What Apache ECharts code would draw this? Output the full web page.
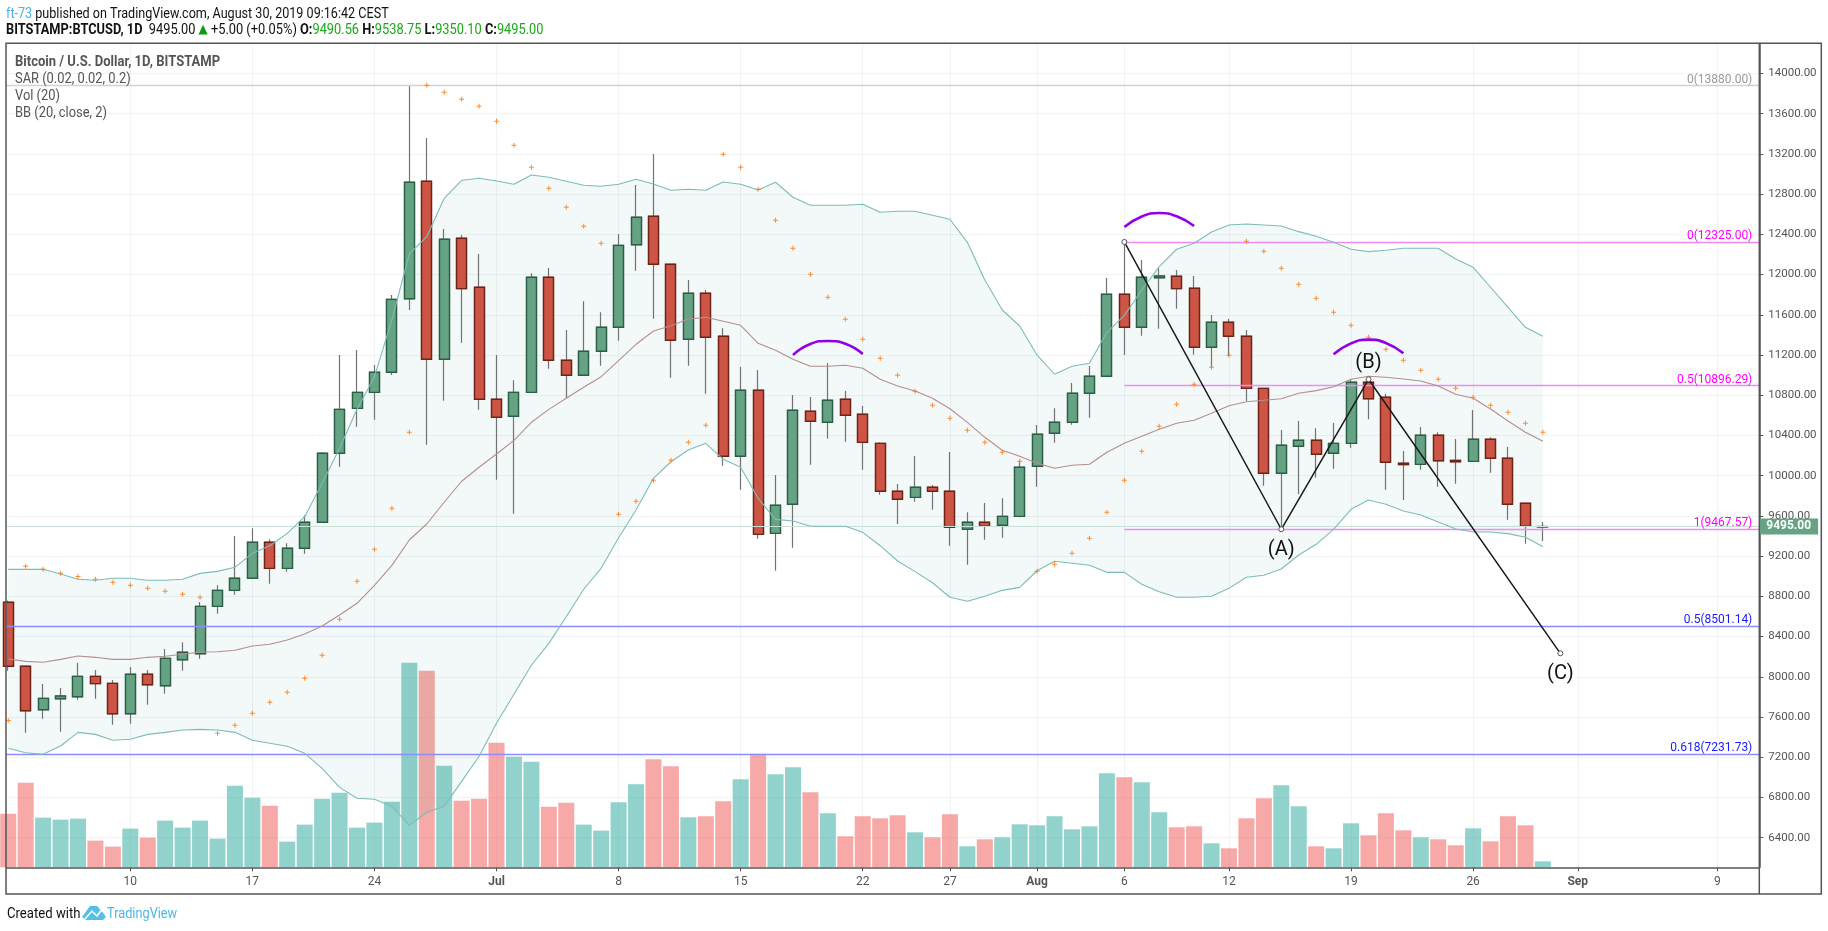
<!DOCTYPE html>
<html><head><meta charset="utf-8"><title>BTCUSD</title>
<style>html,body{margin:0;padding:0;background:#fff}#c{width:1828px;height:931px}</style>
<script src="https://cdn.jsdelivr.net/npm/echarts@6/dist/echarts.min.js"></script></head>
<body><div id="c"></div><script>
const dates=['Jun 3','Jun 4','Jun 5','Jun 6','Jun 7','Jun 8','Jun 9','Jun 10','Jun 11','Jun 12','Jun 13','Jun 14','Jun 15','Jun 16','Jun 17','Jun 18','Jun 19','Jun 20','Jun 21','Jun 22','Jun 23','Jun 24','Jun 25','Jun 26','Jun 27','Jun 28','Jun 29','Jun 30','Jul 1','Jul 2','Jul 3','Jul 4','Jul 5','Jul 6','Jul 7','Jul 8','Jul 9','Jul 10','Jul 11','Jul 12','Jul 13','Jul 14','Jul 15','Jul 16','Jul 17','Jul 18','Jul 19','Jul 20','Jul 21','Jul 22','Jul 23','Jul 24','Jul 25','Jul 26','Jul 27','Jul 28','Jul 29','Jul 30','Jul 31','Aug 1','Aug 2','Aug 3','Aug 4','Aug 5','Aug 6','Aug 7','Aug 8','Aug 9','Aug 10','Aug 11','Aug 12','Aug 13','Aug 14','Aug 15','Aug 16','Aug 17','Aug 18','Aug 19','Aug 20','Aug 21','Aug 22','Aug 23','Aug 24','Aug 25','Aug 26','Aug 27','Aug 28','Aug 29','Aug 30'];
const opens=[8741,8105,7673,7782,7802,8005,7935,7633,8025,7912,8170,8230,8701,8860,8980,9338,9079,9278,9537,10223,10670,10829,11029,11760,12928,11158,12361,11874,10760,10591,10829,11973,11148,10999,11237,11476,12297,12580,12103,11357,11814,11387,10193,10850,9427,9716,10641,10531,10760,10611,10322,9845,9785,9885,9845,9467,9537,9507,9596,10094,10422,10531,10820,10989,11804,11476,11969,11983,11864,11277,11526,11387,10869,10024,10293,10352,10223,10322,10929,10780,10124,10113,10402,10153,10143,10362,10173,9726,9490.56];
const closes=[8105,7663,7786,7809,8005,7932,7633,8025,7922,8184,8244,8701,8860,8980,9338,9079,9278,9537,10223,10660,10829,11029,11754,12918,11158,12351,11860,10760,10581,10829,11973,11148,10999,11237,11476,12291,12570,12103,11347,11814,11377,10193,10850,9417,9706,10651,10541,10750,10601,10332,9845,9766,9885,9845,9487,9537,9497,9596,10084,10412,10531,10820,10989,11804,11476,11973,11986,11860,11277,11526,11387,10869,10024,10303,10352,10213,10322,10929,10766,10134,10110,10402,10149,10139,10362,10173,9716,9497,9495];
const lows=[8061,7445,7584,7454,7772,7783,7524,7534,7723,7832,8061,8180,8628,8817,8980,8926,9046,9224,9537,10090,10487,10557,11002,11648,10309,10746,11323,10657,9961,9622,10829,11064,10770,10999,11094,11343,12039,11562,10975,11094,10816,10100,9861,9374,9055,9284,10110,10368,10338,10060,9811,9520,9742,9662,9304,9115,9364,9383,9586,9891,10328,10507,10577,10989,11200,11392,11462,11661,11203,11078,11191,10743,9901,9467,9815,9980,10070,10279,10561,9861,9758,10060,9891,9921,10143,10030,9563,9324,9350.10];
const highs=[8760,8110,7928,7889,8137,8068,7968,8098,8068,8277,8343,8744,8910,9400,9477,9367,9328,9606,10233,11200,11250,11101,11797,13880,13359,12454,12394,12205,11200,10949,12013,12066,11449,11735,11625,12404,12891,13200,12103,11946,11847,11466,11081,11051,10007,10803,10783,11121,10842,10693,10332,9918,10196,9908,10236,9636,9729,9775,10143,10504,10670,10922,11091,11966,12325,12145,12063,12046,11986,11598,11559,11449,10869,10455,10544,10472,10524,10952,10969,10813,10246,10484,10432,10365,10654,10382,10286,9726,9538.75];
const volumes=[8050,12700,7450,7150,7300,4000,3100,5800,4450,7000,5950,7000,4300,12250,10450,9250,3850,6400,10300,11200,5950,6700,9850,30700,29500,15250,10000,10300,18700,16600,15850,9100,9700,6400,5500,9750,12450,16200,15150,7500,7650,9900,13200,17050,13950,15000,11250,8100,4650,7650,7350,7800,5250,4500,7950,3150,4200,4500,6450,6300,7650,5700,6150,14100,13500,12750,8250,6000,6150,3600,2850,7350,10350,12300,9150,3150,2850,6600,4800,8100,5550,4500,4200,3300,5850,3900,7650,6300,900];
const bbUpper=[9069,9069,9069,9023,8970,8960,8980,8980,8960,8960,8970,9029,9049,9089,9228,9304,9427,9593,9925,10273,10660,10985,11549,12205,12377,12759,12938,12958,12931,12898,12991,12968,12928,12888,12878,12898,12948,12901,12838,12848,12838,12921,12898,12841,12918,12769,12689,12689,12689,12699,12620,12630,12630,12590,12550,12321,11946,11648,11489,11198,11009,11088,11118,11426,11595,11847,12079,12252,12311,12424,12493,12503,12493,12483,12427,12381,12321,12252,12228,12242,12262,12262,12262,12155,12072,11874,11675,11476,11387];
const bbBasis=[8178,8154,8145,8174,8207,8194,8174,8174,8194,8204,8224,8247,8250,8264,8307,8324,8366,8426,8505,8615,8731,8910,9109,9361,9520,9736,9945,10084,10216,10352,10531,10660,10770,10879,10985,11144,11307,11439,11492,11559,11575,11536,11496,11317,11247,11158,11088,11088,11098,11068,10959,10892,10842,10770,10666,10531,10382,10253,10193,10124,10074,10104,10114,10233,10322,10392,10462,10522,10551,10621,10696,10736,10750,10766,10820,10846,10885,10959,10989,10979,10962,10942,10892,10810,10770,10663,10544,10432,10342];
const bbLower=[7289,7245,7229,7312,7448,7428,7369,7379,7428,7448,7471,7478,7471,7448,7369,7339,7309,7239,7090,6901,6792,6782,6712,6523,6653,6712,6961,7210,7538,7826,8115,8333,8598,8871,9079,9383,9659,9974,10139,10256,10322,10163,10084,9775,9566,9550,9497,9497,9497,9437,9304,9152,9046,8936,8791,8751,8801,8860,8890,9055,9149,9129,9109,9039,9039,8920,8847,8791,8791,8801,8880,8990,9010,9072,9212,9318,9467,9666,9758,9716,9649,9609,9540,9470,9440,9440,9424,9388,9294];
const sar=[7567,9099,9069,9029,8999,8970,8940,8910,8880,8850,8821,8791,7438,7518,7637,7747,7846,7985,8214,8572,8950,9268,9676,10432,13883,13813,13743,13674,13525,13286,13067,12858,12669,12480,12311,9616,9746,9954,10153,10332,10501,13196,13067,12848,12540,12262,12003,11774,11556,11357,11168,10999,10840,10700,10571,10452,10332,10233,10143,9049,9119,9228,9378,9636,9954,10243,10492,10710,10909,11078,11197,12331,12232,12063,11904,11764,11625,11496,11377,11257,11148,11048,10959,10869,10780,10700,10631,10521,10432];
const priceTicks=[6400,6800,7200,7600,8000,8400,8800,9200,9600,10000,10400,10800,11200,11600,12000,12400,12800,13200,13600,14000];
const timeTickDays=[7,14,21,28,35,42,49,54,59,64,70,77,84,90,98];
const timeTickLabels=['10','17','24','Jul','8','15','22','27','Aug','6','12','19','26','Sep','9'];
const waveDays=[64,73,78,89], wavePrices=[12325,9467.57,10959,8234], waveLabels=['','(A)','(B)','(C)'];
const arcDays=[[45,46,47,48,49],[64,65,66,67,68],[76,77,78,79,80]];
const arcPrices=[[11201,11310,11340,11312,11211],[12473,12578,12613,12580,12483],[11207,11316,11353,11320,11217]];
const lastPrice=9495, xMin=-0.11, xMax=100.41, yMin=6106, yMax=14300, volMax=123600;

const FONT='Roboto,sans-serif';
const GREEN='#66a384', RED='#cc5545', GREEN_B='#2b5f45', RED_B='#6e2218', WICK='#737375';
const idx=dates.map((_,i)=>i);
const pair=a=>a.map((v,i)=>[i,v]);
const fullCandles=idx.map(i=>[i,opens[i],closes[i],lows[i],highs[i]]);
const bodyCandles=idx.map(i=>[i,opens[i],closes[i],Math.min(opens[i],closes[i]),Math.max(opens[i],closes[i])]);
const hline=(y,x0,label,color,textColor)=>[
  {coord:[x0,y],lineStyle:{color,width:1.3,type:'solid'},label:{show:!!label,formatter:label,color:textColor,position:'insideEndTop',distance:[7,0],fontFamily:FONT,fontSize:12}},
  {coord:[xMax,y]}];
const arcSeries=arcDays.map((d,k)=>({type:'line',name:'arc'+k,data:d.map((x,i)=>[x,arcPrices[k][i]]),smooth:0.5,symbol:'none',lineStyle:{color:'#9400e6',width:2.6},z:9,silent:true}));
const bandItem=(params,api)=>{
  if(params.dataIndex!==0) return null;
  const pts=idx.map(i=>api.coord([i,bbUpper[i]])).concat(idx.slice().reverse().map(i=>api.coord([i,bbLower[i]])));
  return {type:'polygon',shape:{points:pts},style:{fill:'rgba(38,140,135,0.055)'},silent:true};
};

const option={
 animation:false,backgroundColor:'#fff',
 grid:{left:6.3,right:68.7,top:43.3,bottom:63.7,containLabel:false},
 xAxis:{type:'value',min:xMin,max:xMax,
  axisLine:{show:true,lineStyle:{color:'#555',width:1.5}},
  axisTick:{show:true,length:4,lineStyle:{color:'#555'},customValues:timeTickDays},
  axisLabel:{customValues:timeTickDays,margin:9,color:'#555',fontFamily:FONT,fontSize:12,
    formatter:v=>{const s=timeTickLabels[timeTickDays.indexOf(v)];return /[A-Z]/.test(s)?'{b|'+s+'}':s;},
    rich:{b:{fontWeight:'bold',color:'#555',fontFamily:FONT,fontSize:12}}},
  splitLine:{show:true,lineStyle:{color:'#f0f2f4',width:1}}},
 yAxis:[
  {type:'value',position:'right',min:yMin,max:yMax,
   axisLine:{show:true,onZero:false,lineStyle:{color:'#555',width:1.5}},
   axisTick:{show:true,length:4,lineStyle:{color:'#555'},customValues:priceTicks},
   axisLabel:{customValues:priceTicks,margin:9,padding:[2,0,0,0],color:'#555',fontFamily:FONT,fontSize:11.5,formatter:v=>v.toFixed(2)},
   splitLine:{show:true,lineStyle:{color:'#f1f3f5',width:1.2}}},
  {type:'value',min:0,max:volMax,show:false,splitLine:{show:false}}
 ],
 series:[
  {type:'bar',name:'Vol',yAxisIndex:1,barWidth:16,z:1,silent:true,
   data:idx.map(i=>({value:[i,volumes[i]],itemStyle:{color:closes[i]>=opens[i]?'rgba(38,166,154,0.5)':'rgba(239,83,80,0.5)'}}))},
  {type:'custom',name:'BB band',renderItem:bandItem,data:pair(bbUpper),clip:true,z:2,silent:true},
  {type:'candlestick',name:'wicks',data:fullCandles,barWidth:10.5,z:3,silent:true,
   itemStyle:{color:GREEN,color0:RED,borderColor:WICK,borderColor0:WICK,borderColorDoji:GREEN_B,borderWidth:1.2}},
  {type:'candlestick',name:'BTCUSD',data:bodyCandles,barWidth:10.5,z:4,silent:true,
   itemStyle:{color:GREEN,color0:RED,borderColor:GREEN_B,borderColor0:RED_B,borderColorDoji:GREEN_B,borderWidth:1.4}},
  {type:'line',name:'BB upper',data:pair(bbUpper),symbol:'none',lineStyle:{color:'#7dbcb8',width:1.1},z:5,silent:true},
  {type:'line',name:'BB lower',data:pair(bbLower),symbol:'none',lineStyle:{color:'#7dbcb8',width:1.1},z:5,silent:true},
  {type:'line',name:'BB basis',data:pair(bbBasis),symbol:'none',lineStyle:{color:'#b58e8e',width:1.1},z:5,silent:true},
  {type:'scatter',name:'SAR',data:pair(sar),symbol:'path://M2 0h1v2h2v1H3v2H2V3H0V2h2z',symbolSize:5,itemStyle:{color:'#ff7000'},z:6,silent:true},
  {type:'line',name:'levels',data:[],z:7,silent:true,
   markLine:{silent:true,symbol:'none',precision:2,animation:false,
    data:[
     hline(13880,xMin,'0(13880.00)','#d2d2d2','#9a9a9a'),
     hline(12325,waveDays[0],'0(12325.00)','#f08cf0','#ff00ff'),
     hline(10896.29,waveDays[0],'0.5(10896.29)','#f08cf0','#ff00ff'),
     hline(9467.57,waveDays[0],'1(9467.57)','#f08cf0','#ff00ff'),
     hline(8501.14,xMin,'0.5(8501.14)','#8c8cff','#1a1aff'),
     hline(7231.73,xMin,'0.618(7231.73)','#8c8cff','#1a1aff'),
     [{coord:[xMin,lastPrice],lineStyle:{color:'#c9e0d6',width:1.2,type:'solid'},
       label:{show:true,position:'end',distance:0,formatter:lastPrice.toFixed(2),color:'#fff',backgroundColor:GREEN,padding:[2,7,2,7],fontFamily:FONT,fontSize:12,fontWeight:'bold'}},
      {coord:[xMax,lastPrice]}]
    ]}},
  ...arcSeries,
  {type:'line',name:'wave',data:waveDays.map((x,i)=>({value:[x,wavePrices[i]],
      label:{show:!!waveLabels[i],formatter:waveLabels[i],position:i===2?'top':'bottom',distance:i===2?3:8,color:'#111',fontFamily:FONT,fontSize:20}})),
   symbol:'circle',symbolSize:5,itemStyle:{color:'#fff',borderColor:'#555',borderWidth:1},
   lineStyle:{color:'#1a1a1a',width:1.5},z:10,silent:true}
 ],
 graphic:{elements:[
  {type:'rect',silent:true,z:100,shape:{x:6,y:43.3,width:1815.3,height:850.7},style:{fill:'none',stroke:'#555',lineWidth:1.5}},
  {type:'line',silent:true,z:100,shape:{x1:1759.3,y1:43.3,x2:1759.3,y2:894},style:{stroke:'#555',lineWidth:1.5}},
  {type:'text',silent:true,z:100,x:6,y:7,scaleX:0.9,style:{text:'{a|ft-73} published on TradingView.com, August 30, 2019 09:16:42 CEST',fill:'#111',font:'14px '+FONT,rich:{a:{fill:'#49b3e6',font:'14px '+FONT}}}},
  {type:'text',silent:true,z:100,x:6,y:23,scaleX:0.915,style:{
    text:'{b|BITSTAMP:BTCUSD, 1D}  9495.00 {t|▲} +5.00 (+0.05%) {b|O:}{g|9490.56} {b|H:}{g|9538.75} {b|L:}{g|9350.10} {b|C:}{g|9495.00}',
    fill:'#111',font:'14px '+FONT,
    rich:{b:{fill:'#111',font:'bold 14px '+FONT},g:{fill:'#17a917',font:'14px '+FONT},t:{fill:'#0a9a0a',font:'13px DejaVu Sans'}}}},
  {type:'text',silent:true,z:100,x:15,y:55,scaleX:0.93,style:{text:'Bitcoin / U.S. Dollar, 1D, BITSTAMP',fill:'#555',font:'bold 14px '+FONT}},
  {type:'text',silent:true,z:100,x:15,y:72,scaleX:0.92,style:{text:'SAR (0.02, 0.02, 0.2)',fill:'#555',font:'14px '+FONT}},
  {type:'text',silent:true,z:100,x:15,y:89,scaleX:0.92,style:{text:'Vol (20)',fill:'#555',font:'14px '+FONT}},
  {type:'text',silent:true,z:100,x:15,y:106,scaleX:0.92,style:{text:'BB (20, close, 2)',fill:'#555',font:'14px '+FONT}},
  {type:'text',silent:true,z:100,x:7,y:907,scaleX:0.875,style:{text:'Created with',fill:'#111',font:'15px '+FONT}},
  {type:'text',silent:true,z:100,x:107,y:907,scaleX:0.85,style:{text:'TradingView',fill:'#4db8e8',font:'15px '+FONT}},
  {type:'polygon',silent:true,z:100,shape:{points:[[82,917],[90,906],[97,906],[104,914],[106,917],[103,920],[86,920]]},style:{fill:'#55bfe8'}},
  {type:'polyline',silent:true,z:101,shape:{points:[[85,919],[92,911],[97,916],[103,908]]},style:{fill:'none',stroke:'#fff',lineWidth:1.5}}
 ]}
};
const chart=echarts.init(document.getElementById('c'),null,{renderer:'canvas',width:1828,height:931});
chart.setOption(option);
</script></body></html>
